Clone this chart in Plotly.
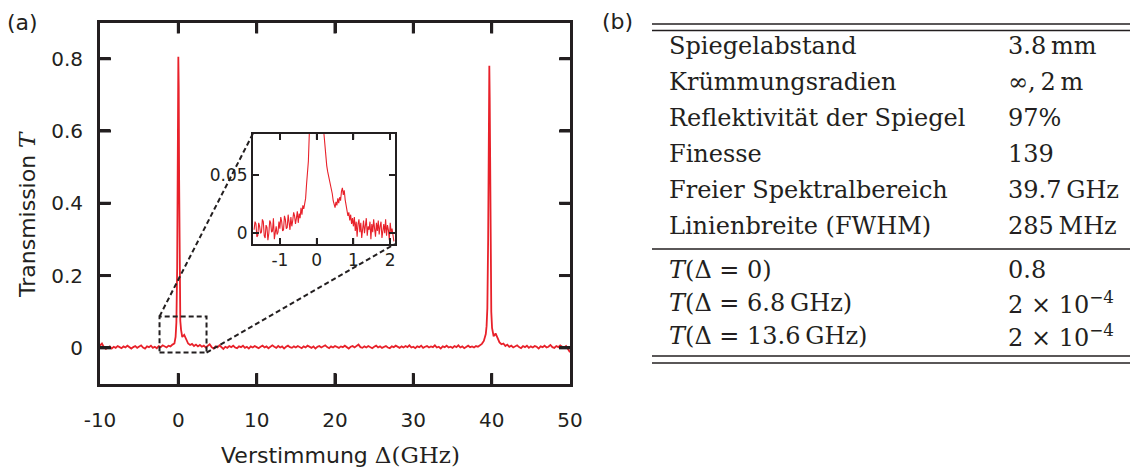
import plotly.graph_objects as go
import numpy as np

W, H = 1130, 472

# ---------------- data ----------------
# main spectrum, Transmission T vs detuning (GHz)
seg1_x = list(np.round(np.arange(-10.0, -0.49, 0.25), 3))
seg1_y = [0.006, 0.012, 0.002, -0.003, 0.001, 0.004, -0.002, 0.003, 0.000, 0.005,
          0.002, -0.001, 0.004, 0.001, 0.006, 0.003, -0.002, 0.002, 0.005, 0.000,
          0.003, 0.007, 0.001, -0.002, 0.004, 0.002, 0.006, 0.000, 0.003, -0.001,
          0.005, 0.002, 0.007, 0.003, 0.001, 0.006, 0.004, 0.009, 0.012]
peak1_x = [-0.35, -0.25, -0.15, -0.1, -0.05, 0.0, 0.05, 0.1, 0.15, 0.25, 0.35]
peak1_y = [0.03, 0.07, 0.22, 0.45, 0.70, 0.805, 0.72, 0.47, 0.24, 0.075, 0.05]
seg2_x = list(np.round(np.arange(0.5, 39.26, 0.25), 3))
seg2_y = [0.030, 0.036, 0.021, 0.012, 0.008, 0.011, 0.005, 0.009, 0.004, 0.008,
          0.003, 0.006, 0.001, 0.005, 0.010, 0.002, -0.002, 0.004, 0.001, 0.007,
          0.002, -0.003, 0.003, 0.000, 0.005, 0.002, 0.006, 0.001, -0.001, 0.004,
          0.002, 0.006, 0.000, 0.003, -0.002, 0.004, 0.001, 0.005, 0.002, -0.001,
          0.003, 0.006, 0.001, 0.004, -0.001, 0.002, 0.007, 0.003, 0.000, 0.005,
          0.001, 0.004, -0.002, 0.003, 0.006, 0.002, 0.000, 0.004, 0.001, 0.005,
          0.002, -0.001, 0.004, 0.001, 0.006, 0.003, 0.000, 0.004, -0.002, 0.003,
          0.005, 0.001, 0.003, 0.007, 0.002, -0.001, 0.004, 0.001, 0.005, 0.002,
          0.000, 0.004, 0.002, 0.006, 0.001, -0.002, 0.003, 0.005, 0.001, 0.004,
          0.009, 0.002, 0.000, 0.004, 0.001, 0.005, 0.002, -0.001, 0.003, 0.006,
          0.001, 0.004, 0.000, 0.003, 0.005, 0.001, -0.001, 0.004, 0.002, 0.006,
          0.002, 0.000, 0.004, 0.001, 0.005, 0.002, 0.007, 0.001, 0.003, -0.001,
          0.004, 0.002, 0.006, 0.000, 0.003, 0.005, 0.001, 0.004, 0.002, 0.007,
          0.001, 0.003, -0.002, 0.004, 0.002, 0.006, 0.001, 0.003, 0.000, 0.005,
          0.002, 0.007, 0.001, 0.004, -0.001, 0.003, 0.006, 0.002, 0.004, 0.001,
          0.005, 0.003, 0.007, 0.011, 0.019, 0.038]
peak2_x = [39.35, 39.45, 39.55, 39.6, 39.65, 39.7, 39.75, 39.8, 39.85, 39.95, 40.05]
peak2_y = [0.06, 0.11, 0.30, 0.50, 0.70, 0.78, 0.69, 0.48, 0.28, 0.10, 0.055]
seg3_x = list(np.round(np.arange(40.25, 50.01, 0.25), 3))
seg3_y = [0.032, 0.040, 0.025, 0.015, 0.010, 0.012, 0.005, 0.009, 0.003, 0.006,
          0.001, 0.004, 0.007, 0.002, -0.001, 0.005, 0.002, 0.006, 0.000, 0.004,
          0.001, 0.005, 0.003, -0.002, 0.004, 0.002, 0.006, 0.001, 0.003, 0.008,
          0.002, 0.000, 0.005, 0.002, 0.007, 0.003, 0.001, 0.005, -0.004, -0.012]

main_x = seg1_x + peak1_x + seg2_x + peak2_x + seg3_x
main_y = seg1_y + peak1_y + seg2_y + peak2_y + seg3_y

# inset: zoom of the base of the first resonance (step 0.025 GHz)
inset_x = list(np.round(np.linspace(-1.70, 2.10, 153), 3))
inset_y_left = [0.003, 0.010, 0.008, -0.003, -0.002, 0.009, 0.006, 0.000, 0.001, 0.012,
                0.010, -0.002, -0.004, 0.007, 0.005, -0.006, 0.000, 0.011, 0.009, 0.001,
                0.002, 0.013, -0.005, 0.004, 0.006, -0.001, 0.001, 0.010, 0.004, 0.014,
                0.010, 0.002, 0.003, 0.015, 0.012, 0.004, 0.005, 0.016, 0.008, 0.003,
                0.014, 0.006, 0.011, 0.018, 0.015, 0.008, 0.013, 0.019, 0.009, 0.017,
                0.013, 0.022, 0.016, 0.024, 0.021, 0.027]
inset_y_center = [0.030, 0.042, 0.052, 0.062, 0.085, 0.110, 0.160, 0.240, 0.350, 0.500,
                  0.650, 0.760, 0.800, 0.760, 0.640, 0.480, 0.330, 0.220, 0.150, 0.110,
                  0.085, 0.074, 0.066, 0.058, 0.053]
inset_y_right = [0.049, 0.046, 0.043, 0.040, 0.034, 0.028, 0.025, 0.022, 0.027, 0.024,
                 0.030, 0.026, 0.031, 0.028, 0.036, 0.039, 0.033, 0.037, 0.029, 0.025,
                 0.020, 0.015, 0.018, 0.011, 0.016, 0.008, 0.013,
                 0.006, 0.014, 0.002, 0.010, -0.003, 0.008, 0.012, 0.001, 0.009, -0.004,
                 0.005, 0.011, 0.000, 0.007, 0.013, -0.002, 0.006, 0.003, 0.010, -0.005,
                 0.008, 0.001, 0.012, 0.004, -0.003, 0.009, 0.002, 0.011, -0.001, 0.006,
                 0.010, -0.004, 0.005, 0.008, 0.000, 0.012, -0.002, 0.007, 0.003, -0.006,
                 0.009, 0.001, 0.004, -0.003, -0.007]
inset_y = inset_y_left + inset_y_center + inset_y_right

# ticks
main_xticks = [-10, 0, 10, 20, 30, 40, 50]
main_xticklabels = ["-10", "0", "10", "20", "30", "40", "50"]
main_yticks = [0, 0.2, 0.4, 0.6, 0.8]
main_yticklabels = ["0", "0.2", "0.4", "0.6", "0.8"]
inset_xticks = [-1, 0, 1, 2]
inset_xticklabels = ["-1", "0", "1", "2"]
inset_yticks = [0, 0.05]
inset_yticklabels = ["0", "0.05"]

# zoom window shown in the main plot
zoom_box_x = [-2.4, 3.6]
zoom_box_y = [-0.013, 0.087]

# table (b)
table_params = ["Spiegelabstand", "Krümmungsradien", "Reflektivität der Spiegel",
                "Finesse", "Freier Spektralbereich", "Linienbreite (FWHM)"]
table_values = ["3.8\u2009mm", "∞,\u20092\u2009m", "97%", "139", "39.7\u2009GHz", "285\u2009MHz"]
table_params2 = ["<i>T</i>(Δ = 0)", "<i>T</i>(Δ = 6.8\u2009GHz)", "<i>T</i>(Δ = 13.6\u2009GHz)"]
table_values2 = ["0.8", "2 × 10<sup>−4</sup>", "2 × 10<sup>−4</sup>"]

# ---------------- layout geometry ----------------
RED = "#e8212a"
INK = "#231f20"
SANS = "DejaVu Sans"
SERIF = "DejaVu Serif"

main_xr = [-10, 50]
main_yr = [-0.1, 0.9]
inset_xr = [-1.73, 2.13]
inset_yr = [-0.0092, 0.0858]

main_px_x = [100, 570]
main_px_y = [22.5, 384]
inset_px_x = [253, 395]
inset_px_y = [133.5, 244]

main_dom_x = [main_px_x[0] / W, main_px_x[1] / W]
main_dom_y = [1 - main_px_y[1] / H, 1 - main_px_y[0] / H]
inset_dom_x = [inset_px_x[0] / W, inset_px_x[1] / W]
inset_dom_y = [1 - inset_px_y[1] / H, 1 - inset_px_y[0] / H]


def to_paper(x, y):
    px = main_dom_x[0] + (x - main_xr[0]) / (main_xr[1] - main_xr[0]) * (main_dom_x[1] - main_dom_x[0])
    py = main_dom_y[0] + (y - main_yr[0]) / (main_yr[1] - main_yr[0]) * (main_dom_y[1] - main_dom_y[0])
    return px, py


def tick_trace(xvals, yvals, xr, yr, px_x, px_y, length_px, width, xa, ya):
    """inward tick marks on all four sides, as one line trace in axis units"""
    dx = length_px / (px_x[1] - px_x[0]) * (xr[1] - xr[0])
    dy = length_px / (px_y[1] - px_y[0]) * (yr[1] - yr[0])
    tx, ty = [], []
    for v in xvals:
        tx += [v, v, None, v, v, None]
        ty += [yr[0], yr[0] + dy, None, yr[1], yr[1] - dy, None]
    for v in yvals:
        tx += [xr[0], xr[0] + dx, None, xr[1], xr[1] - dx, None]
        ty += [v, v, None, v, v, None]
    return go.Scatter(x=tx, y=ty, mode="lines", line=dict(color=INK, width=width),
                      xaxis=xa, yaxis=ya, showlegend=False, hoverinfo="skip",
                      connectgaps=False)


fig = go.Figure()
fig.add_trace(go.Scatter(x=main_x, y=main_y, mode="lines",
                         line=dict(color=RED, width=1.8), xaxis="x", yaxis="y",
                         showlegend=False, hoverinfo="skip"))
fig.add_trace(tick_trace(main_xticks[1:-1], main_yticks, main_xr, main_yr, main_px_x, main_px_y,
                         11, 3, "x", "y"))
fig.add_trace(go.Scatter(x=inset_x, y=inset_y, mode="lines",
                         line=dict(color=RED, width=1.1), xaxis="x2", yaxis="y2",
                         showlegend=False, hoverinfo="skip"))
fig.add_trace(tick_trace(inset_xticks, inset_yticks, inset_xr, inset_yr, inset_px_x, inset_px_y,
                         6, 1.5, "x2", "y2"))

axis_common = dict(showgrid=False, zeroline=False, showline=True, mirror="allticks",
                   ticks="inside", linecolor=INK, tickcolor=INK, layer="above traces",
                   automargin=False)

fig.update_layout(
    template="none",
    width=W, height=H,
    margin=dict(l=0, r=0, t=0, b=0, pad=0, autoexpand=False),
    paper_bgcolor="white", plot_bgcolor="white",
    xaxis=dict(domain=main_dom_x, range=main_xr, anchor="y", tickmode="array",
               tickvals=main_xticks, ticktext=main_xticklabels,
               linewidth=3, tickwidth=3, ticklen=10, ticklabelstandoff=16,
               tickfont=dict(family=SANS, size=20, color=INK), **axis_common),
    yaxis=dict(domain=main_dom_y, range=main_yr, anchor="x", tickmode="array",
               tickvals=main_yticks, ticktext=main_yticklabels,
               linewidth=3, tickwidth=3, ticklen=10, ticklabelstandoff=10,
               tickfont=dict(family=SANS, size=20, color=INK), **axis_common),
    xaxis2=dict(domain=inset_dom_x, range=inset_xr, anchor="y2", tickmode="array",
                tickvals=inset_xticks, ticktext=inset_xticklabels,
                linewidth=2, tickwidth=1.5, ticklen=6,
                tickfont=dict(family=SANS, size=17, color=INK), **axis_common),
    yaxis2=dict(domain=inset_dom_y, range=inset_yr, anchor="x2", tickmode="array",
                tickvals=inset_yticks, ticktext=inset_yticklabels,
                linewidth=2, tickwidth=1.5, ticklen=6,
                tickfont=dict(family=SANS, size=17, color=INK), **axis_common),
)

shapes = []
# dashed zoom box
shapes.append(dict(type="rect", xref="x", yref="y", x0=zoom_box_x[0], x1=zoom_box_x[1],
                   y0=zoom_box_y[0], y1=zoom_box_y[1],
                   line=dict(color=INK, width=2, dash="5px,3px")))
# connectors box -> inset
p1 = to_paper(zoom_box_x[0], zoom_box_y[1])
p2 = to_paper(zoom_box_x[1], zoom_box_y[0])
shapes.append(dict(type="line", xref="paper", yref="paper", x0=p1[0], y0=p1[1],
                   x1=inset_dom_x[0], y1=inset_dom_y[1],
                   line=dict(color=INK, width=2, dash="5px,3px")))
shapes.append(dict(type="line", xref="paper", yref="paper", x0=p2[0], y0=p2[1],
                   x1=inset_dom_x[1], y1=inset_dom_y[0],
                   line=dict(color=INK, width=2, dash="5px,3px")))

# table rules
rule_x0, rule_x1 = 652 / W, 1.0
for ypx, lw in [(24, 1.5), (30.5, 1.5), (249, 1.5), (356, 1.5), (363, 1.5)]:
    shapes.append(dict(type="line", xref="paper", yref="paper", x0=rule_x0, x1=rule_x1,
                       y0=1 - ypx / H, y1=1 - ypx / H, line=dict(color=INK, width=lw)))
fig.update_layout(shapes=shapes)

ann = []
# panel labels
ann.append(dict(text="(a)", x=22 / W, y=1 - 23 / H, xref="paper", yref="paper",
                showarrow=False, xanchor="center", yanchor="middle",
                font=dict(family=SANS, size=22, color=INK)))
ann.append(dict(text="(b)", x=617 / W, y=1 - 22 / H, xref="paper", yref="paper",
                showarrow=False, xanchor="center", yanchor="middle",
                font=dict(family=SANS, size=22, color=INK)))
# axis titles
ann.append(dict(text="Verstimmung <span style='font-family:DejaVu Serif;font-size:23px'>Δ(GHz)</span>",
                x=340 / W, y=1 - 455 / H, xref="paper", yref="paper", showarrow=False,
                xanchor="center", yanchor="middle", font=dict(family=SANS, size=22, color=INK)))
ann.append(dict(text="Transmission <span style='font-family:DejaVu Serif;font-size:23px'><i>T</i></span>",
                x=27 / W, y=1 - 215 / H, xref="paper", yref="paper", showarrow=False,
                textangle=-90, xanchor="center", yanchor="middle",
                font=dict(family=SANS, size=22, color=INK)))

# table text
row_y_top = [46, 82, 118, 154, 190, 226]
row_y_bot = [270, 303, 336]
for name, val, ypx in zip(table_params + table_params2, table_values + table_values2,
                          row_y_top + row_y_bot):
    ann.append(dict(text=name, x=667 / W, y=1 - ypx / H, xref="paper", yref="paper",
                    showarrow=False, xanchor="left", yanchor="middle",
                    font=dict(family=SERIF, size=24, color=INK)))
    ann.append(dict(text=val, x=1006 / W, y=1 - ypx / H, xref="paper", yref="paper",
                    showarrow=False, xanchor="left", yanchor="middle",
                    font=dict(family=SERIF, size=24, color=INK)))
fig.update_layout(annotations=ann)

fig.write_html("out.html", post_script="document.body.style.margin='0';document.body.style.padding='0';")
